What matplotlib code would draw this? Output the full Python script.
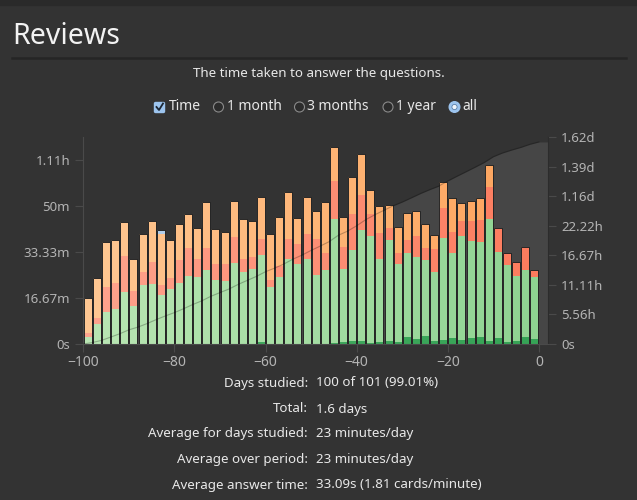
import numpy as np
import matplotlib
matplotlib.use("Agg")
import matplotlib.pyplot as plt
from matplotlib.patches import Rectangle, Ellipse, FancyBboxPatch
from matplotlib.lines import Line2D
from matplotlib.colors import to_rgb

plt.rcParams['font.family'] = ['Noto Sans', 'DejaVu Sans']

# day bins (2 days each), centres from -99 to -1
days = np.arange(-99, 0, 2)

# minutes per bin, stacked bottom to top
mature = [0, 0, 0, 0, 0, 0, 0, 0, 0, 0,
          0, 0, 0, 0, 0, 0, 0, 0, 0, 0.8,
          0, 0, 0, 0, 0, 0, 0, 0.3, 0.6, 1.1,
          1.1, 0.3, 0.6, 1.0, 0.8, 2.7, 1.8, 2.9, 1.1, 1.3,
          2.0, 1.5, 2.2, 2.5, 1.2, 2.0, 0.8, 1.1, 2.7, 1.8]
young_top = [2.6, 7.2, 11.7, 12.7, 19.0, 13.9, 21.4, 21.8, 17.6, 20.0,
             22.1, 24.6, 24.3, 26.7, 23.3, 22.7, 29.5, 26.3, 27.1, 32.2,
             20.8, 24.2, 30.8, 29.1, 30.8, 24.9, 26.8, 45.3, 27.1, 34.2,
             41.3, 39.1, 30.9, 37.8, 29.2, 33.1, 31.5, 30.3, 26.2, 38.3,
             32.9, 39.2, 37.2, 37.0, 45.3, 33.3, 28.5, 24.6, 26.8, 24.2]
relearn_top = [3.9, 9.4, 20.7, 22.0, 31.9, 19.2, 26.1, 29.7, 21.4, 23.9,
               30.4, 34.7, 30.9, 35.0, 29.1, 29.0, 38.8, 30.8, 31.6, 38.0,
               23.4, 28.4, 38.0, 36.3, 40.0, 38.0, 33.0, 59.3, 35.1, 47.2,
               54.0, 47.2, 40.2, 42.0, 33.0, 37.7, 39.2, 34.8, 34.3, 49.5,
               40.6, 44.8, 44.7, 44.9, 56.9, 42.1, 32.9, 29.6, 35.3, 26.8]
learn_top = [16.7, 24.0, 37.0, 37.9, 44.2, 31.0, 39.9, 44.6, 39.9, 37.9,
             43.5, 47.0, 42.1, 51.4, 41.7, 40.8, 51.9, 45.4, 44.8, 53.3,
             40.0, 45.9, 55.1, 45.8, 53.3, 48.4, 51.4, 71.5, 46.1, 60.6,
             69.1, 55.7, 50.1, 50.6, 42.3, 47.6, 48.2, 43.7, 39.7, 58.8,
             52.8, 51.0, 51.8, 53.0, 65.1, 42.1, 32.9, 29.6, 35.3, 26.8]
filtered = [0] * 50
filtered[8] = 1.4

mature = np.array(mature)
young = np.array(young_top) - mature
relearn = np.array(relearn_top) - np.array(young_top)
learn = np.array(learn_top) - np.array(relearn_top)
filtered = np.array(filtered)
total = mature + young + relearn + learn + filtered

left_ticks_s = [0, 1000, 2000, 3000, 4000]
left_labels = ['0s', '16.67m', '33.33m', '50m', '1.11h']
right_ticks_s = [0, 20000, 40000, 60000, 80000, 100000, 120000, 140000]
right_labels = ['0s', '5.56h', '11.11h', '16.67h', '22.22h', '1.16d', '1.39d', '1.62d']
x_ticks = [-100, -80, -60, -40, -20, 0]

stats_labels = ['Days studied:', 'Total:', 'Average for days studied:',
                'Average over period:', 'Average answer time:']
stats_values = ['100 of 101 (99.01%)', '1.6 days', '23 minutes/day',
                '23 minutes/day', '33.09s (1.81 cards/minute)']

BG = '#333333'
W, H = 637, 500


def fx(px):
    return px / W


def fy(py):
    return 1 - py / H


def ramp(c0, c1, n):
    a, b = np.array(to_rgb(c0)), np.array(to_rgb(c1))
    return [tuple(a + (b - a) * t) for t in np.linspace(0, 1, n)]


def dot(cx, cy, r, **kw):
    fig.patches.append(Ellipse((fx(cx), fy(cy)), 2 * r / W, 2 * r / H,
                               transform=fig.transFigure, **kw))


fig = plt.figure(figsize=(6.37, 5.0), dpi=100, facecolor=BG)
fig.patches.append(Rectangle((0, fy(5)), 1, 5 / H, transform=fig.transFigure,
                             color='#2a2a2a', zorder=0))

# header
fig.text(fx(12), fy(43.5), 'Reviews', fontsize=20.5, color='#f2f2f2', va='baseline')
fig.add_artist(Line2D([fx(12), fx(626)], [fy(58), fy(58)], color='#252525', lw=1.8))
fig.text(0.5, fy(74), 'The time taken to answer the questions.', fontsize=9.6,
         color='#e8e8e8', ha='center', va='center')

# controls row
cy = 107
fig.patches.append(FancyBboxPatch((fx(154.5), fy(112.5)), 10 / W, 10 / H,
                                  boxstyle='round,pad=0,rounding_size=0.002',
                                  transform=fig.transFigure, facecolor='#9cc4ee',
                                  edgecolor='#9cc4ee'))
fig.add_artist(Line2D([fx(156.5), fx(159), fx(163)], [fy(107), fy(110), fy(103.5)],
                      color='#1b2633', lw=1.3))
fig.text(fx(169), fy(cy), 'Time', fontsize=10, color='#e8e8e8', va='center')
for cx, tx, lab, sel in [(218.5, 227, '1 month', False), (299.5, 307, '3 months', False),
                         (388, 396, '1 year', False), (454.5, 462, 'all', True)]:
    if sel:
        dot(cx, cy, 5.3, facecolor='#9cc4ee', edgecolor='#9cc4ee')
        dot(cx, cy, 2.6, facecolor='#eef5fc', edgecolor='#5a7fa8', lw=0.6)
    else:
        dot(cx, cy, 5.0, facecolor='#2b2b2b', edgecolor='#8a8a8a', lw=0.8)
    fig.text(fx(tx), fy(cy), lab, fontsize=10, color='#e8e8e8', va='center')

# chart axes
rect = [fx(83.3), fy(344), fx(548) - fx(83.3), (344 - 137.3) / H]
ax = fig.add_axes(rect)
axr = ax.twinx()
axl = ax.twinx()
ax.set_zorder(axr.get_zorder() + 1)
axl.set_zorder(ax.get_zorder() + 1)
ax.patch.set_visible(False)
axl.patch.set_visible(False)
axr.set_facecolor(BG)

xlim = (-100, 2)
for a in (ax, axr, axl):
    a.set_xlim(*xlim)

# cumulative area (hours)
cum_h = np.concatenate([[0], np.cumsum(total)]) / 60
cx_pts = np.concatenate([np.arange(-100, 1, 2), [2]])
cy_pts = np.concatenate([cum_h, [cum_h[-1]]])
axr.fill_between(cx_pts, 0, cy_pts, color='#464646', lw=0)
axl.plot(cx_pts[:-1], cy_pts[:-1], color='#000000', alpha=0.25, lw=0.8)
for a in (axr, axl):
    a.set_ylim(0, 140000 / 3600)

# stacked bars
n = len(days)
cols = [ramp('#b9e5b3', '#8ed391', n), ramp('#fda38d', '#fc7b5d', n),
        ramp('#fec792', '#fda35c', n), ramp('#47ad62', '#36a356', n)]
bw = 1.76
bottom = np.zeros(n)
for vals, c in [(mature, cols[3]), (young, cols[0]), (relearn, cols[1]), (learn, cols[2])]:
    ax.bar(days, vals, bw, bottom=bottom, color=c, lw=0)
    bottom = bottom + vals
ax.bar(days, filtered, bw, bottom=bottom, color='#b0cdea', lw=0)
ax.bar(days, total, bw, fill=False, edgecolor='#262626', lw=0.7)
ax.set_ylim(0, 75)

# axis styling
tick_c = '#b4b4b4'
line_c = '#4a4a4a'
ax.set_yticks(np.array(left_ticks_s) / 60)
ax.set_yticklabels(left_labels)
ax.set_xticks(x_ticks)
ax.set_xticklabels([str(t).replace('-', '\u2212') for t in x_ticks])
axr.set_yticks(np.array(right_ticks_s) / 3600)
axr.set_yticklabels(right_labels)
axl.axis('off')
for a in (ax, axr):
    a.tick_params(colors=line_c, labelcolor=tick_c, labelsize=9.5, length=6, width=0.8)
ax.tick_params(axis='x', labelsize=10, pad=2)
ax.spines['top'].set_visible(False)
axr.spines['top'].set_visible(False)
ax.spines['right'].set_visible(False)
axr.spines['left'].set_visible(False)
axr.spines['bottom'].set_visible(False)
ax.spines['left'].set_color(line_c)
ax.spines['bottom'].set_color(line_c)
axr.spines['right'].set_color('#2c2c2c')

# stats table
rows_y = [383, 409, 434, 459, 485]
for lab, val, yy in zip(stats_labels, stats_values, rows_y):
    fig.text(fx(308), fy(yy), lab, fontsize=9.6, color='#e8e8e8', ha='right', va='center')
    fig.text(fx(316), fy(yy), val, fontsize=9.6, color='#e8e8e8', ha='left', va='center')

fig.savefig('out.png', dpi=100, facecolor=BG)
